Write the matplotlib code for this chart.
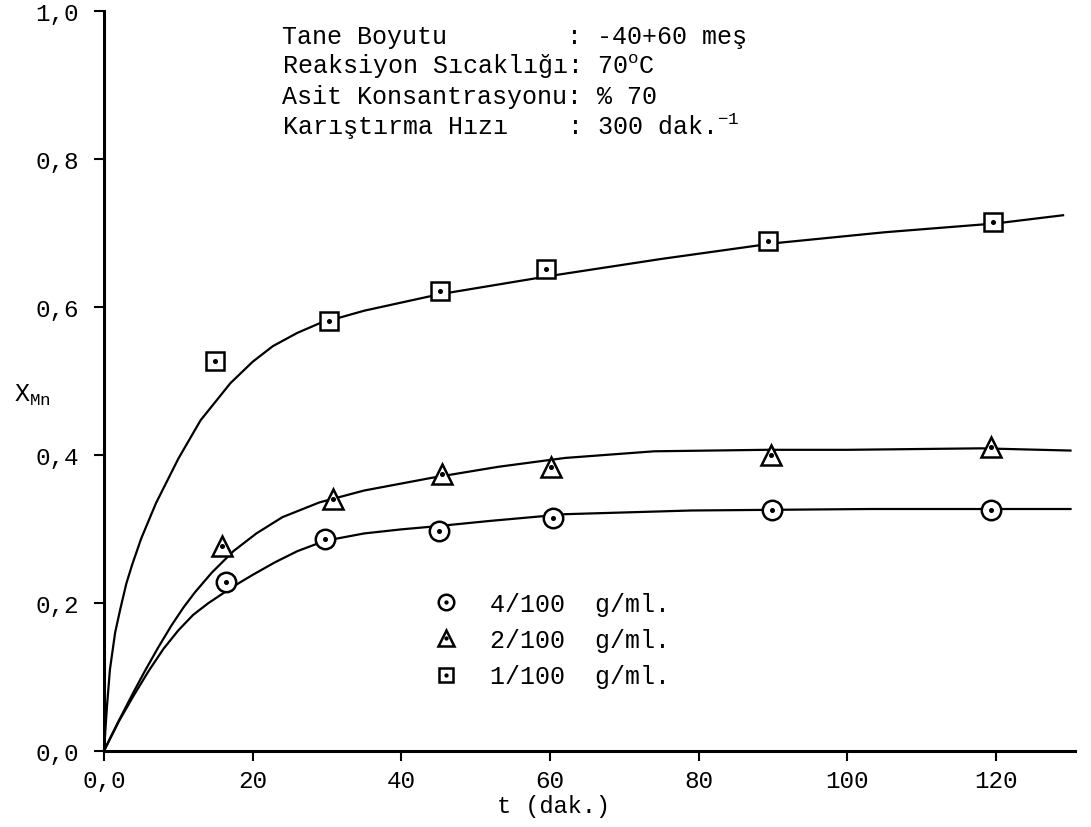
import matplotlib
matplotlib.use("Agg")
import matplotlib.pyplot as plt
from matplotlib.legend_handler import HandlerTuple

plt.rcParams['font.family'] = ['Liberation Mono', 'DejaVu Sans']
plt.rcParams['mathtext.fontset'] = 'custom'
plt.rcParams['mathtext.rm'] = 'Liberation Mono'
plt.rcParams['mathtext.it'] = 'Liberation Mono'
plt.rcParams['axes.unicode_minus'] = False

# Measured conversions, X_Mn vs time (dak.)
t_c = [16.4, 29.7, 45.1, 60.4, 89.9, 119.3]
x_c = [0.228, 0.286, 0.297, 0.315, 0.325, 0.326]
t_t = [15.9, 30.8, 45.5, 60.1, 89.7, 119.3]
x_t = [0.277, 0.341, 0.374, 0.384, 0.400, 0.411]
t_s = [14.9, 30.3, 45.2, 59.5, 89.3, 119.6]
x_s = [0.527, 0.581, 0.622, 0.651, 0.689, 0.715]

# Smoothed curves drawn through each data set
curve_t_c = [0, 2, 4, 6, 8, 10, 12, 14, 16, 18, 20, 23, 26, 29.7, 35, 40, 45, 52, 62, 79, 103, 130]
curve_x_c = [0, .040, .075, .108, .138, .163, .184, .1995, .213, .226, .238, .255, .270, .284,
             .294, .2995, .304, .311, .320, .325, .327, .327]
curve_t_t = [0, 1, 2, 4, 5.5, 7.3, 9.1, 10.7, 12.2, 14.5, 17.4, 20.5, 24, 29, 35, 44, 53, 62,
             74, 89, 100, 118, 130]
curve_x_t = [0, .021, .041, .080, .108, .140, .170, .194, .214, .241, .270, .294, .316, .336,
             .352, .369, .384, .396, .405, .407, .407, .409, .406]
curve_t_s = [0, 0.4, 0.8, 1.5, 2.2, 3, 3.8, 5, 7, 10, 13, 17, 20, 22.7, 26, 29, 35, 45, 60,
             75, 90, 105, 120, 129]
curve_x_s = [0, .060, .110, .160, .192, .226, .252, .287, .335, .395, .447, .497, .526, .547,
             .565, .578, .595, .617, .642, .665, .686, .701, .713, .724]

series_labels = ['4/100  g/ml.', '2/100  g/ml.', '1/100  g/ml.']

xtick_vals = [0, 20, 40, 60, 80, 100, 120]
xtick_labels = ['0,0', '20', '40', '60', '80', '100', '120']
ytick_vals = [0.0, 0.2, 0.4, 0.6, 0.8, 1.0]
ytick_labels = ['0,0', '0,2', '0,4', '0,6', '0,8', '1,0']

info_lines = [
    'Tane Boyutu        : -40+60 meş',
    'Reaksiyon Sıcaklığı: 70$^{\\mathrm{o}}$C',
    'Asit Konsantrasyonu: % 70',
    'Karıştırma Hızı    : 300 dak.$^{-1}$',
]

fig = plt.figure(figsize=(10.91, 8.28), dpi=100)
ax = fig.add_axes([0.0953, 0.0918, 0.8900, 0.8937])

lw = 1.6
ax.plot(curve_t_c, curve_x_c, color='black', lw=lw, zorder=2)
ax.plot(curve_t_t, curve_x_t, color='black', lw=lw, zorder=2)
ax.plot(curve_t_s, curve_x_s, color='black', lw=lw, zorder=2)

mk = dict(linestyle='none', markerfacecolor='white', markeredgecolor='black',
          markeredgewidth=1.8, zorder=3)
h_c, = ax.plot(t_c, x_c, marker='o', markersize=14, **mk)
h_t, = ax.plot(t_t, x_t, marker='^', markersize=15, **mk)
h_s, = ax.plot(t_s, x_s, marker='s', markersize=13, **mk)

dot = dict(linestyle='none', marker='o', markersize=2.6, color='black', zorder=4)
d_c, = ax.plot(t_c, x_c, **dot)
d_t, = ax.plot(t_t, x_t, **dot)
d_s, = ax.plot(t_s, x_s, **dot)

ax.set_xlim(0, 130.6)
ax.set_ylim(0, 1.0)

for side in ('top', 'right'):
    ax.spines[side].set_visible(False)
for side in ('left', 'bottom'):
    ax.spines[side].set_linewidth(2.2)

ax.set_xticks(xtick_vals)
ax.set_xticklabels(xtick_labels)
ax.set_yticks(ytick_vals)
ax.set_yticklabels(ytick_labels)
ax.tick_params(axis='both', direction='out', length=7, width=1.5, labelsize=17.5)
ax.tick_params(axis='x', pad=6)
ax.tick_params(axis='y', pad=11)

ax.set_xlabel('t (dak.)', fontsize=17)
ax.xaxis.set_label_coords(0.4634, -0.058)
ax.set_ylabel('X$_{\\mathrm{Mn}}$', fontsize=18, rotation=0, ha='center', va='center')
ax.yaxis.set_label_coords(-0.074, 0.482)

# Experimental conditions block
info_y = [0.966, 0.926, 0.885, 0.845]
for line, yy in zip(info_lines, info_y):
    ax.text(23.9, yy, line, fontsize=18, ha='left', va='center', color='black')

leg = ax.legend([(h_c, d_c), (h_t, d_t), (h_s, d_s)], series_labels,
                handler_map={tuple: HandlerTuple(ndivide=1)},
                loc='upper left', bbox_to_anchor=(44.3, 0.215),
                bbox_transform=ax.transData, frameon=False, fontsize=18,
                handlelength=1.0, handletextpad=1.26, labelspacing=0.49,
                borderpad=0, borderaxespad=0, markerscale=0.8)

fig.savefig('out.png', dpi=100, facecolor='white')
